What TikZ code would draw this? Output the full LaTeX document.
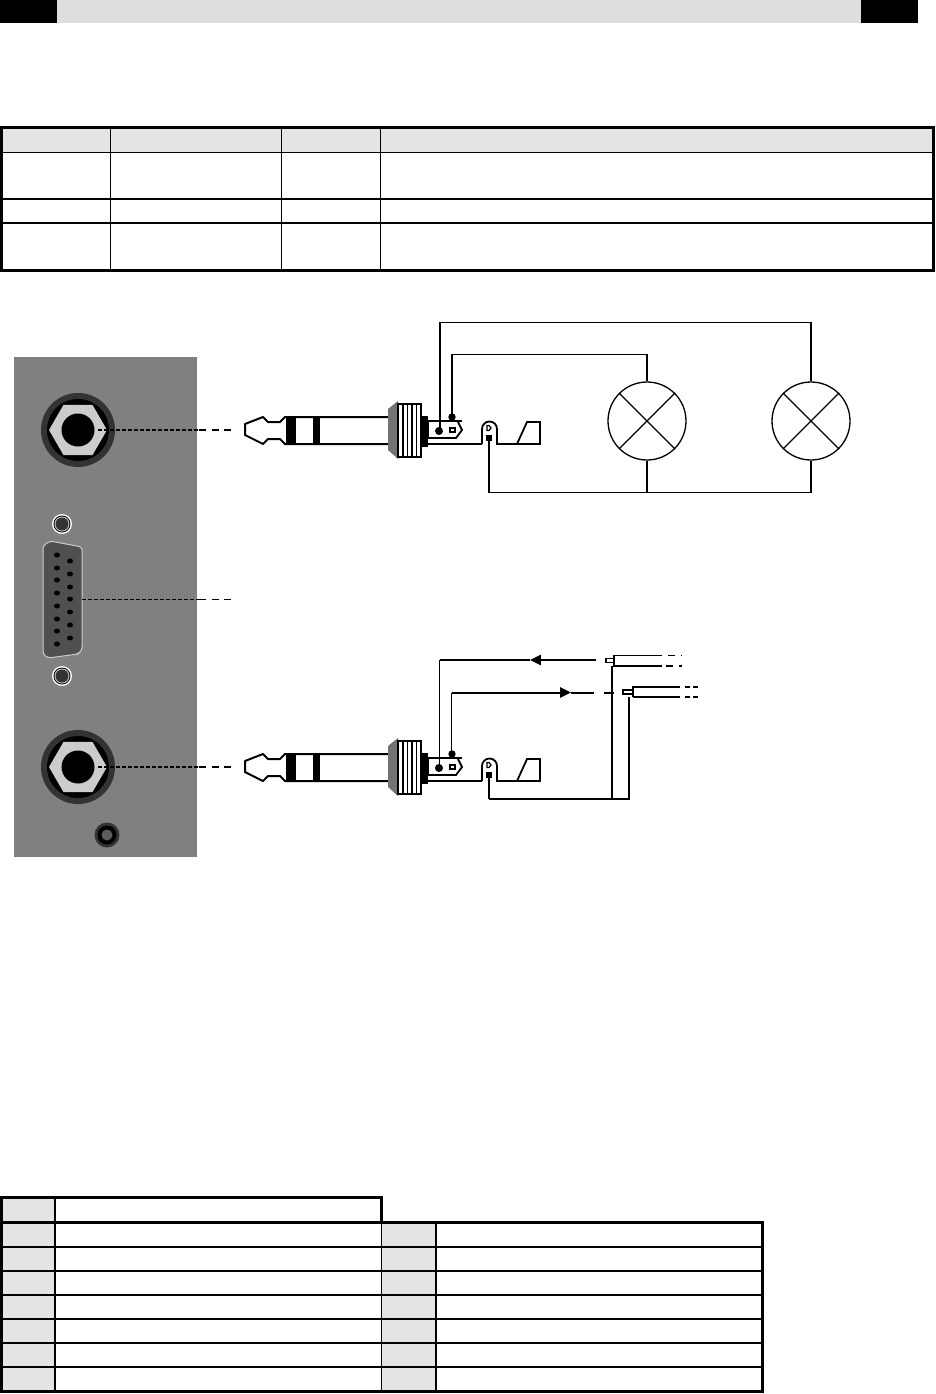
\documentclass[tikz,border=0pt]{standalone}
\usetikzlibrary{arrows.meta, shapes.geometric}
\definecolor{headgrey}{HTML}{E4E4E4}
\definecolor{bargrey}{HTML}{DEDEDE}
\definecolor{panelgrey}{HTML}{808080}
\definecolor{ringgrey}{HTML}{333333}
\definecolor{hexgrey}{HTML}{CCCCCC}
\definecolor{dsubgrey}{HTML}{505050}
\tikzset{
  lamp/.style={draw=black, line width=1.3pt, circle, minimum size=78pt, inner sep=0pt},
  hexnut/.style={regular polygon, regular polygon sides=6, fill=hexgrey, minimum size=58pt, inner sep=0pt},
  wire/.style={black, line width=1.3pt},
  fatwire/.style={black, line width=2pt},
  near/.style={black, line width=1.2pt, dash pattern=on 4pt off 2pt},
  far/.style={black, line width=1.2pt, dash pattern=on 7pt off 5.5pt},
  flow/.style={arrows={-Triangle[angle=50:12pt,black,fill=black]}},
}
\begin{document}
\begin{tikzpicture}[x=1pt, y=-1pt]
\useasboundingbox (0,0) rectangle (935,1394);
% page bar
\fill[black] (0,0) rectangle (57,23);
\fill[bargrey] (57,0) rectangle (861,23);
\fill[black] (861,0) rectangle (918,23);
% upper table
\fill[headgrey] (1,127) rectangle (933,152);
\draw[line width=1pt] (110.5,127) -- (110.5,270);
\draw[line width=1pt] (281,127) -- (281,270);
\draw[line width=1pt] (380.5,127) -- (380.5,270);
\draw[line width=1.2pt] (0,152.5) -- (935,152.5);
\draw[line width=2.4pt] (0,199) -- (935,199);
\draw[line width=2.4pt] (0,223) -- (935,223);
\draw[line width=3pt] (1.5,128) rectangle (933.5,270);
% panel
\fill[panelgrey] (14,357) rectangle (197,857);
\foreach \name/\yy in {a/430, b/767} {
  \fill[ringgrey] (78,\yy) circle (37);
  \fill[black] (78,\yy) circle (31);
  \node[hexnut] (hex\name) at (78,\yy) {};
  \fill[black] (78,\yy) circle (16.5);
}
\foreach \yy in {524, 676} {
  \fill[white] (62,\yy) circle (10);
  \fill[black] (62,\yy) circle (8.5);
  \fill[hexgrey] (62,\yy) circle (7.5);
  \fill[ringgrey] (62,\yy) circle (6.5);
}
\filldraw[fill=dsubgrey, draw=hexgrey, line width=1pt, rounded corners=3pt]
  (43,546) -- (50,541) -- (82,547) -- (82,650) -- (78,654) -- (48,658) -- (43,654) -- cycle;
\foreach \yy in {555,568,580,593,606,619,631,644}
  \fill[black] (57,\yy) ellipse (3 and 2.5);
\foreach \yy in {561,574,587,599,612,625,638}
  \fill[black] (70,\yy) ellipse (3 and 2.5);
\fill[ringgrey] (107,835) circle (12.5);
\fill[black] (107,835) circle (9.5);
\fill[ringgrey!80!white] (107,835) circle (5.5);
% leaders out of the panel
\coordinate (leada) at (98,430);
\coordinate (edgea) at (199,430);
\coordinate (enda) at (233,430);
\coordinate (leadb) at (82,599.5);
\coordinate (edgeb) at (199,599.5);
\coordinate (endb) at (233,599.5);
\coordinate (leadc) at (98,767);
\coordinate (edgec) at (199,767);
\coordinate (endc) at (233,767);
\draw[near] (leada) -- (edgea);
\draw[far] (edgea) -- (enda);
\draw[near, line width=1.8pt] (leadb) -- (edgeb);
\draw[far, line width=1.8pt] (edgeb) -- (endb);
\draw[near, line width=1.8pt] (leadc) -- (edgec);
\draw[far, line width=1.8pt] (edgec) -- (endc);
% both plugs
\foreach \yy in {0, 337} {
\begin{scope}[yshift=-\yy pt]
\draw[line width=2pt, line join=round] (388,417) -- (285,417) -- (280,422) -- (268,422) -- (263,417) -- (245,424) -- (245,435) -- (263,444) -- (268,439) -- (280,439) -- (285,444) -- (388,444);
\fill[black] (286,416) rectangle (296,445);
\fill[black] (313,416) rectangle (320,445);
\fill[panelgrey!90!black] (388,409) -- (398,401) -- (398,459) -- (388,450) -- cycle;
\fill[white] (398,404) rectangle (421,457);
\foreach \xx in {403,407.5,412,416.5}
  \draw[line width=1.2pt] (\xx,404) -- (\xx,457);
\draw[line width=2pt] (398,404) rectangle (421,457);
\fill[black] (421,416) rectangle (428,447);
\draw[line width=1.8pt] (428,438) -- (456,438) -- (462,430) -- (458,422);
\draw[line width=1.2pt] (428,422) -- (428,438);
\draw[line width=2.2pt] (428,421) -- (462,421);
\draw[line width=2pt] (428,444) -- (482,444);
\fill[black] (439,431) circle (4);
\filldraw[fill=white, draw=black, line width=1.2pt] (450,428) rectangle (455,432);
\fill[black] (452,417) circle (3.7);
% sleeve lug and clamp
\draw[line width=1.8pt] (482,444) -- (482,429) arc[start angle=180, end angle=360, radius=7.5] -- (497,444) -- (517,444) -- (527,422) -- (540,422) -- (540,444) -- (517,444);
\fill[black] (486,435) rectangle (492,441);
\draw[line width=1.2pt] (487,425.5) -- (487,430.5) -- (489,430.5) -- (491,428) -- (489,425.5) -- cycle;
\end{scope}
}
% upper wiring
\node[lamp] (lampa) at (647,421) {};
\node[lamp] (lampb) at (811,421) {};
\draw[wire] (lampa.45) -- (lampa.225);
\draw[wire] (lampa.135) -- (lampa.315);
\draw[wire] (lampb.45) -- (lampb.225);
\draw[wire] (lampb.135) -- (lampb.315);
\coordinate (tipa) at (440,431);
\coordinate (ringa) at (452,417);
\coordinate (sleevea) at (489,438);
\coordinate (returna) at (489,492.5);
\draw[wire] (tipa) -- (440,322.5) -| (lampb.north);
\draw[wire] (ringa) -- (452,354.5) -| (lampa.north);
\draw[wire] (sleevea) -- (returna) -| (lampb.south);
\draw[wire] (lampa.south) -- (647,492.5);
% lower wiring
\coordinate (tipb) at (439.5,768);
\coordinate (ringb) at (451.5,754);
\coordinate (sleeveb) at (489,775);
\coordinate (coutl) at (596,660);
\coordinate (cinl) at (594,692.5);
\coordinate (arrowl) at (530,660);
\coordinate (arrowr) at (571,692.5);
\draw[fatwire, flow] (coutl) -- (arrowl);
\draw[fatwire] (arrowl) -- (439.5,660);
\draw[wire] (439.5,660) -- (tipb);
\draw[fatwire, flow] (451.5,692.5) -- (arrowr);
\draw[fatwire] (arrowr) -- (cinl);
\draw[wire] (451.5,692.5) -- (ringb);
\draw[fatwire] (604,692.5) -- (614,692.5);
% cable ends
\coordinate (shielda) at (612,666);
\coordinate (shieldb) at (629,697);
\draw[fatwire] (sleeveb) -- (489,799);
\draw[wire] (489,799) -- (629,799) -- (shieldb);
\draw[line width=2.4pt] (shielda) -- (612,799);
\draw[line width=1.2pt] (662,655.5) -- (614,655.5);
\draw[line width=2pt] (614,655) -- (614,666) -- (662,666);
\filldraw[fill=white, draw=black, line width=1.8pt] (606,658.5) rectangle (614,662.5);
\draw[line width=1.2pt, dash pattern=on 7pt off 6pt] (668,655.5) -- (682,655.5);
\draw[line width=2pt, dash pattern=on 7pt off 6pt] (666,666) -- (682,666);
\draw[line width=2pt] (680,687) -- (633,687) -- (633,697);
\draw[line width=1.2pt] (633,697) -- (680,697);
\filldraw[fill=white, draw=black, line width=1.8pt] (623,690) rectangle (633,694);
\draw[line width=2pt, dash pattern=on 5pt off 3pt] (685,687) -- (698,687);
\draw[line width=1.2pt, dash pattern=on 5pt off 3pt] (685,697) -- (698,697);
% lower table
\fill[headgrey] (2,1197) rectangle (55,1392);
\fill[headgrey] (381,1222) rectangle (436,1392);
\foreach \yy in {1247,1271,1295,1319,1343,1367}
  \draw[line width=1.3pt] (0,\yy) -- (763,\yy);
\draw[line width=2pt] (55,1197) -- (55,1392);
\draw[line width=1pt] (381,1222) -- (381,1392);
\draw[line width=2pt] (436,1222) -- (436,1392);
\draw[line width=3pt] (381.5,1222) |- (1.5,1197.5) |- (762.5,1391.5) |- (1.5,1222.5);
\end{tikzpicture}
\end{document}
